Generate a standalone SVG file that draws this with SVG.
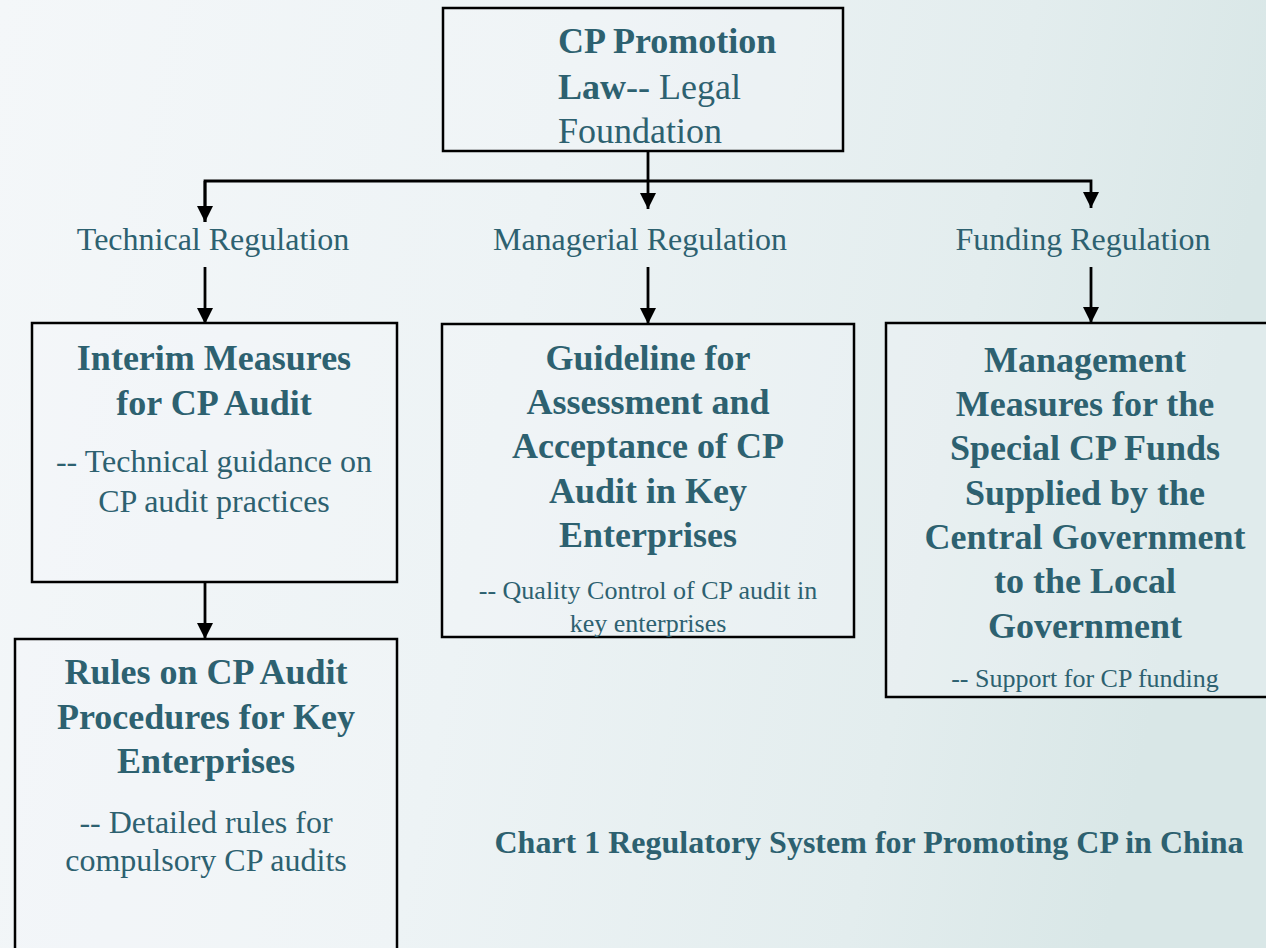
<svg xmlns="http://www.w3.org/2000/svg" width="1266" height="948" viewBox="0 0 1266 948">
  <defs>
    <linearGradient id="bg" x1="0" y1="0" x2="1" y2="0.15">
      <stop offset="0" stop-color="#F4F7F9"/>
      <stop offset="0.45" stop-color="#EDF3F5"/>
      <stop offset="0.8" stop-color="#E3EDEE"/>
      <stop offset="1" stop-color="#D9E7E7"/>
    </linearGradient>
    <marker id="arr" viewBox="0 0 16 16" refX="16" refY="8" markerWidth="16" markerHeight="16" markerUnits="userSpaceOnUse" orient="auto">
      <path d="M0,0 L16,8 L0,16 Z" fill="#000"/>
    </marker>
    <style>
      .box { fill: #F6F9FA; fill-opacity: 0.25; stroke: #000; stroke-width: 2.5; }
      .t { font-family: "Liberation Serif", "Times New Roman", serif; fill: #2D6170; }
      .b { font-weight: bold; font-size: 36px; }
      .r { font-size: 32px; }
      .s { font-size: 26px; }
      .c { text-anchor: middle; }
      .ln { fill: none; stroke: #000; stroke-width: 2.8; }
    </style>
  </defs>
  <rect x="0" y="0" width="1266" height="948" fill="url(#bg)"/>

  <g id="connectors">
    <path class="ln" d="M648,152 L648,181"/>
    <path class="ln" d="M205,222 L205,181 L1091,181 L1091,208" marker-end="url(#arr)"/>
    <path class="ln" d="M205,181 L205,222" marker-end="url(#arr)"/>
    <path class="ln" d="M648,181 L648,209" marker-end="url(#arr)"/>
    <path class="ln" d="M205,267 L205,324" marker-end="url(#arr)"/>
    <path class="ln" d="M648,267 L648,324" marker-end="url(#arr)"/>
    <path class="ln" d="M1091,267 L1091,323" marker-end="url(#arr)"/>
    <path class="ln" d="M205,582 L205,639" marker-end="url(#arr)"/>
  </g>

  <g id="law">
    <rect class="box" x="443" y="8" width="400" height="143"/>
    <text class="t b" x="558" y="53">CP Promotion</text>
    <text class="t" x="558" y="99"><tspan class="b">Law</tspan><tspan style="font-size:36px">-- Legal</tspan></text>
    <text class="t" x="558" y="143" style="font-size:36px">Foundation</text>
  </g>

  <g id="label-technical">
    <text class="t r c" x="213" y="250">Technical Regulation</text>
  </g>
  <g id="label-managerial">
    <text class="t r c" x="640" y="250">Managerial Regulation</text>
  </g>
  <g id="label-funding">
    <text class="t r c" x="1083" y="250">Funding Regulation</text>
  </g>

  <g id="interim">
    <rect class="box" x="32" y="323" width="365" height="259"/>
    <text class="t b c" x="214" y="370">Interim Measures</text>
    <text class="t b c" x="214" y="415">for CP Audit</text>
    <text class="t r c" x="214" y="472">-- Technical guidance on</text>
    <text class="t r c" x="214" y="512">CP audit practices</text>
  </g>

  <g id="rules">
    <rect class="box" x="15" y="639" width="382" height="330"/>
    <text class="t b c" x="206" y="684">Rules on CP Audit</text>
    <text class="t b c" x="206" y="729">Procedures for Key</text>
    <text class="t b c" x="206" y="773">Enterprises</text>
    <text class="t r c" x="206" y="833">-- Detailed rules for</text>
    <text class="t r c" x="206" y="871">compulsory CP audits</text>
  </g>

  <g id="guideline">
    <rect class="box" x="442" y="324" width="412" height="313"/>
    <text class="t b c" x="648" y="370">Guideline for</text>
    <text class="t b c" x="648" y="414">Assessment and</text>
    <text class="t b c" x="648" y="458">Acceptance of CP</text>
    <text class="t b c" x="648" y="503">Audit in Key</text>
    <text class="t b c" x="648" y="547">Enterprises</text>
    <text class="t s c" x="648" y="599">-- Quality Control of CP audit in</text>
    <text class="t s c" x="648" y="632">key enterprises</text>
  </g>

  <g id="management">
    <rect class="box" x="886" y="323" width="400" height="374"/>
    <text class="t b c" x="1085" y="372">Management</text>
    <text class="t b c" x="1085" y="416">Measures for the</text>
    <text class="t b c" x="1085" y="460">Special CP Funds</text>
    <text class="t b c" x="1085" y="505">Supplied by the</text>
    <text class="t b c" x="1085" y="549">Central Government</text>
    <text class="t b c" x="1085" y="593">to the Local</text>
    <text class="t b c" x="1085" y="638">Government</text>
    <text class="t s c" x="1085" y="687">-- Support for CP funding</text>
  </g>

  <g id="caption">
    <text class="t c" x="869" y="853" style="font-weight:bold;font-size:32px">Chart 1 Regulatory System for Promoting CP in China</text>
  </g>
</svg>
